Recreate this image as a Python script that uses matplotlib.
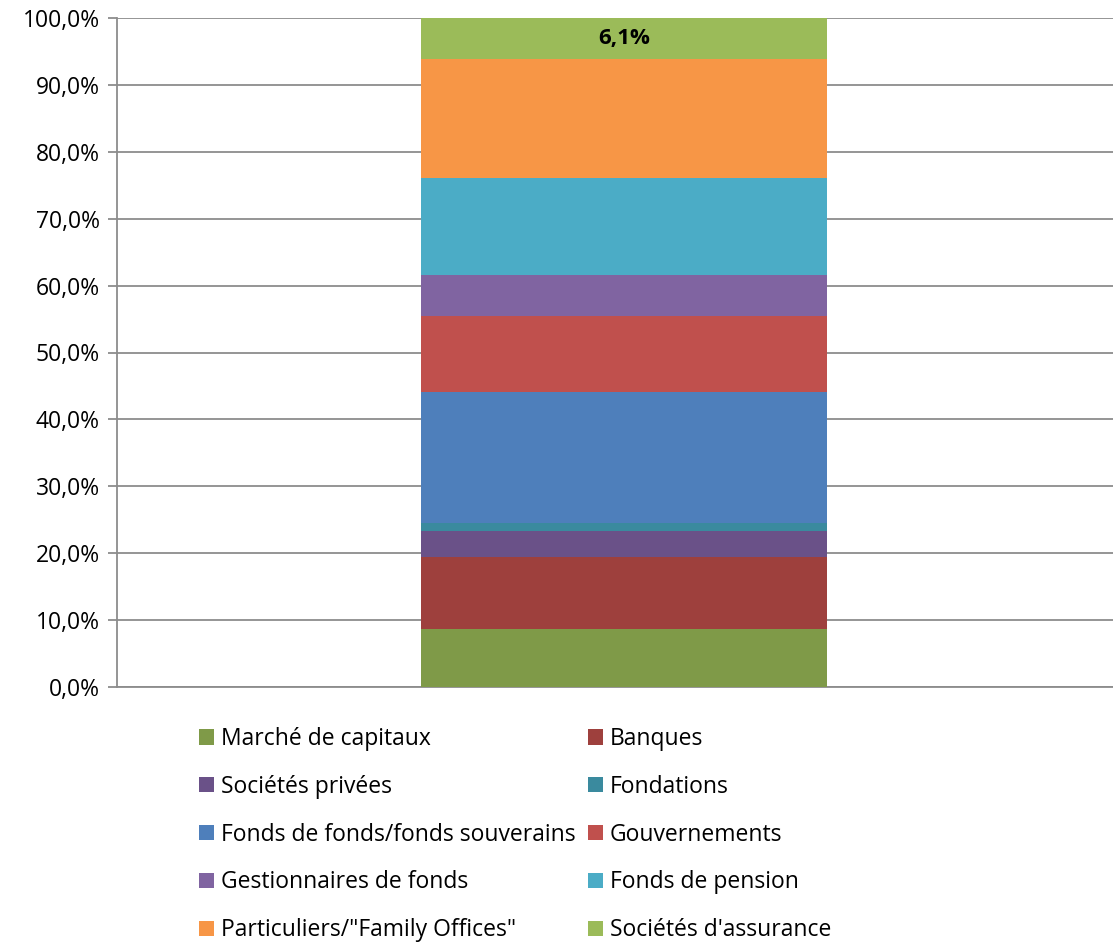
import matplotlib
matplotlib.use("Agg")
import matplotlib.pyplot as plt
from matplotlib.ticker import FuncFormatter

plt.rcParams.update({
    "font.family": ["Open Sans", "DejaVu Sans"],
})

# ── données ──────────────────────────────────────────────────────────────
categories = ["Marché de capitaux", "Banques", "Sociétés privées", "Fondations",
              "Fonds de fonds/fonds souverains", "Gouvernements",
              "Gestionnaires de fonds", "Fonds de pension",
              "Particuliers/\"Family Offices\"", "Sociétés d'assurance"]
shares = [8.7, 10.7, 3.9, 1.2, 19.6, 11.4, 6.1, 14.5, 17.8, 6.1]
colors = ["#7F9A48", "#9E403D", "#6A5188", "#3A8A9E", "#4E7FBB",
          "#C0504D", "#8064A1", "#4BACC6", "#F79646", "#9BBB59"]
labelled = [False] * 9 + [True]

fig = plt.figure(figsize=(11.13, 9.44), dpi=100)
ax = fig.add_axes([117 / 1113, 1 - 687 / 944, 996 / 1113, 669 / 944])

bottom = 0.0
bars = []
for name, v, c, lab in zip(categories, shares, colors, labelled):
    b = ax.bar(0, v, width=0.408, bottom=bottom, color=c, label=name, zorder=3)
    bars.append(b)
    if lab:
        ax.text(0, bottom + v / 2, f"{v:.1f}%".replace(".", ","),
                ha="center", va="center", fontsize=16, fontweight="bold",
                color="black", zorder=4)
    bottom += v

ax.set_xlim(-0.509, 0.491)
ax.set_ylim(0, 100)
ax.set_yticks(range(0, 101, 10))
ax.yaxis.set_major_formatter(FuncFormatter(lambda v, p: f"{v:.1f}%".replace(".", ",")))
ax.set_xticks([])
ax.grid(axis="y", color="#8C8C8C", linewidth=1.3, zorder=0)
for s in ["top", "right"]:
    ax.spines[s].set_visible(False)
for s in ["left", "bottom"]:
    ax.spines[s].set_color("#8C8C8C")
    ax.spines[s].set_linewidth(1.3)
ax.tick_params(axis="y", colors="#8C8C8C", length=6.5, width=1.3,
               labelsize=16.5, labelcolor="black", pad=6)

# légende en 2 colonnes, lue ligne par ligne
handles = [b.patches[0] for b in bars]
order = [0, 2, 4, 6, 8, 1, 3, 5, 7, 9]
fig.legend([handles[i] for i in order], [categories[i] for i in order],
           ncol=2, loc="upper left", bbox_to_anchor=(199 / 1113, 1 - 727 / 944),
           frameon=False, fontsize=16.5, handlelength=0.65, handleheight=0.65,
           handletextpad=0.3, labelspacing=1.04, columnspacing=0.55,
           borderaxespad=0, borderpad=0)

fig.savefig("out.png", dpi=100)
